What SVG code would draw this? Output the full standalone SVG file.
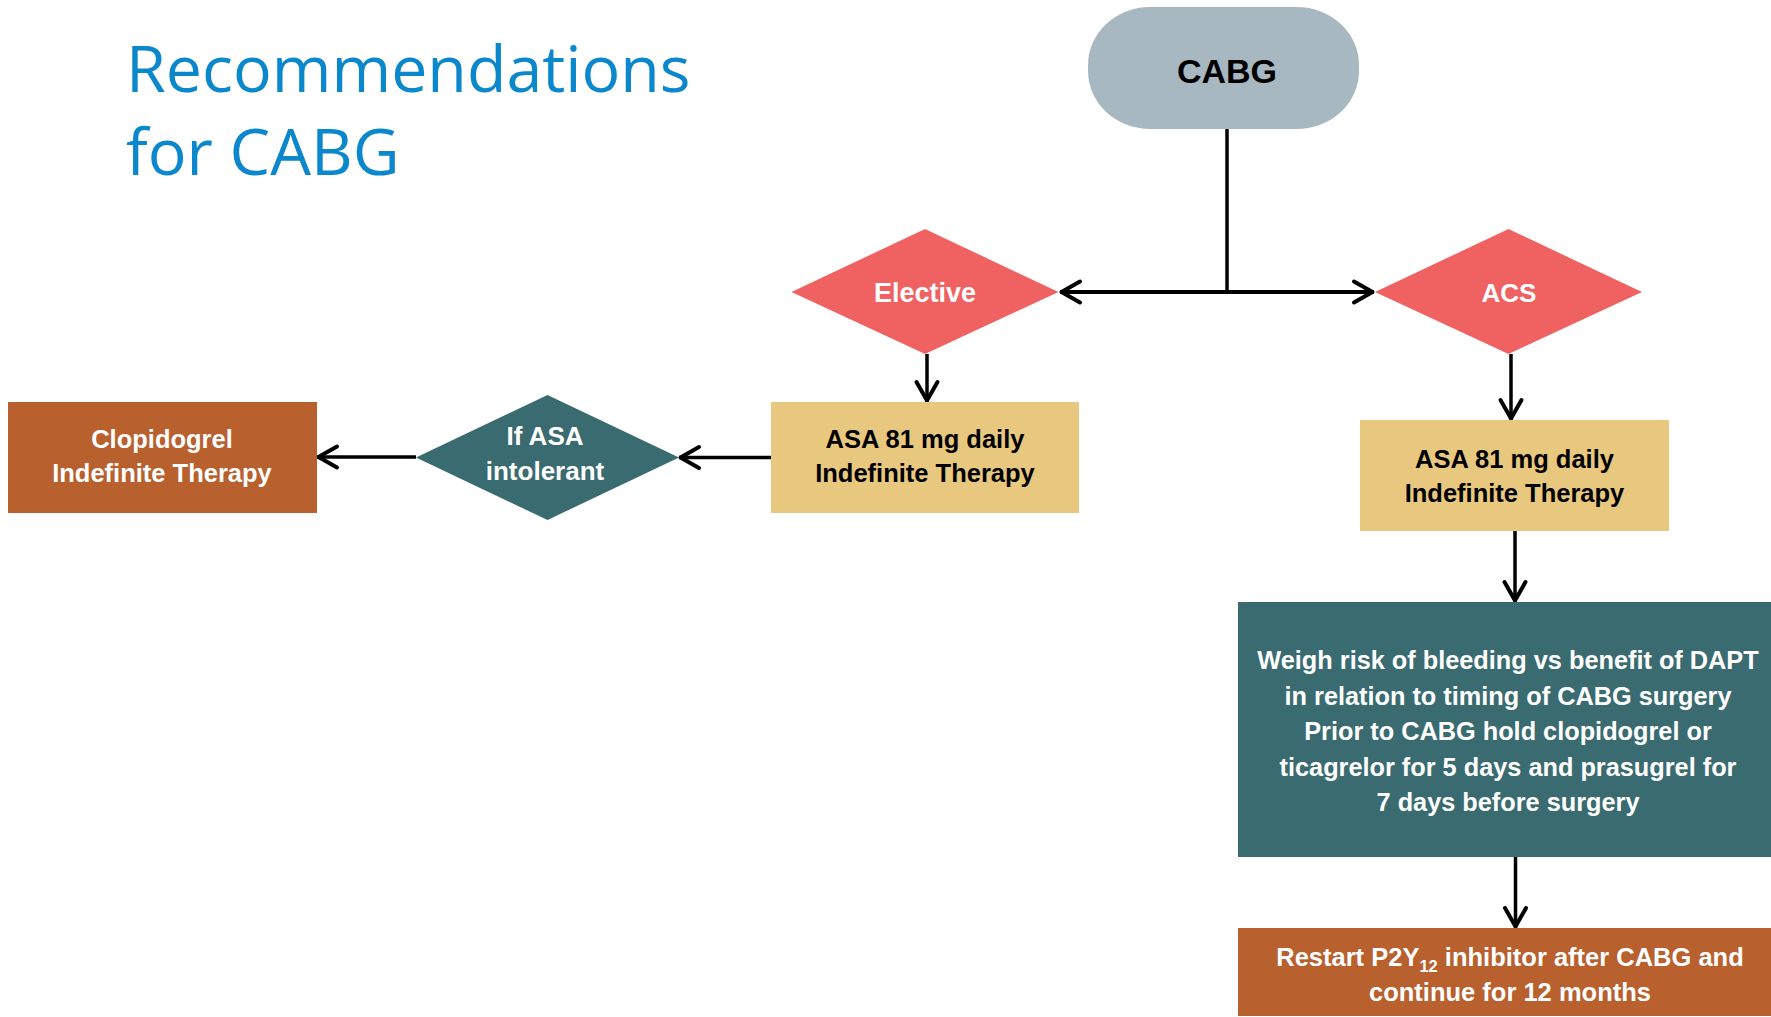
<svg xmlns="http://www.w3.org/2000/svg" width="1771" height="1017" viewBox="0 0 1771 1017">
<defs>
<style>
.t{font-family:"Liberation Sans",Arial,sans-serif;font-weight:bold;text-anchor:middle}
.w{fill:#ffffff}
.k{fill:#000000}
.title{font-family:"Open Sans","Noto Sans",sans-serif;fill:#0B87CC;font-size:64.5px}
.c{fill:none;stroke:#000;stroke-width:3.5}
.ca{fill:none;stroke:#000;stroke-width:3.5;marker-end:url(#arr)}
</style>
<marker id="arr" markerUnits="userSpaceOnUse" markerWidth="30" markerHeight="30" viewBox="-25 -15 30 30" refX="0" refY="0" orient="auto">
<path d="M-20,-10.5 L-1.5,0 L-20,10.5" fill="none" stroke="#000" stroke-width="4" stroke-linecap="round" stroke-linejoin="round"/>
</marker>
</defs>
<rect x="0" y="0" width="1771" height="1017" fill="#ffffff"/>
<g id="title">
<text class="title" x="126" y="92">Recommendations</text>
<text class="title" x="126" y="175">for CABG</text>
</g>
<g id="connectors">
<line class="c" x1="1227" y1="129" x2="1227" y2="292"/>
<line class="ca" x1="1227" y1="292" x2="1060" y2="292" style="stroke-width:4"/>
<line class="ca" x1="1227" y1="292" x2="1374" y2="292" style="stroke-width:4"/>
<line class="ca" x1="927" y1="354" x2="927" y2="402"/>
<line class="ca" x1="1511" y1="354" x2="1511" y2="420"/>
<line class="ca" x1="771" y1="457.5" x2="679" y2="457.5"/>
<line class="ca" x1="416" y1="457" x2="317" y2="457"/>
<line class="ca" x1="1515" y1="531" x2="1515" y2="602"/>
<line class="ca" x1="1515.5" y1="857" x2="1515.5" y2="928"/>
</g>
<g id="cabg">
<rect x="1088" y="7" width="271" height="122" rx="62" ry="58" fill="#A8B8C1"/>
<text class="t k" x="1227" y="83" font-size="34">CABG</text>
</g>
<g id="elective">
<polygon points="925,229 1058.5,292 925,354 791.5,292" fill="#F06262"/>
<text class="t w" x="925" y="302" font-size="27">Elective</text>
</g>
<g id="acs">
<polygon points="1508.5,229 1642,292 1508.5,354 1375,292" fill="#F06262"/>
<text class="t w" x="1509" y="302" font-size="26">ACS</text>
</g>
<g id="asa-elective">
<rect x="771" y="402" width="308" height="111" fill="#E8C77F"/>
<text class="t k" font-size="25.5"><tspan x="925" y="448">ASA 81 mg daily</tspan><tspan x="925" y="482">Indefinite Therapy</tspan></text>
</g>
<g id="if-asa-intolerant">
<polygon points="547.5,395 679,457.5 547.5,520 416,457.5" fill="#3A6B71"/>
<text class="t w" font-size="26"><tspan x="545" y="445">If ASA</tspan><tspan x="545" y="480">intolerant</tspan></text>
</g>
<g id="clopidogrel">
<rect x="8" y="402" width="309" height="111" fill="#B8602E"/>
<text class="t w" font-size="25.5"><tspan x="162" y="448">Clopidogrel</tspan><tspan x="162" y="482">Indefinite Therapy</tspan></text>
</g>
<g id="asa-acs">
<rect x="1360" y="420" width="309" height="111" fill="#E8C77F"/>
<text class="t k" font-size="25.5"><tspan x="1514.5" y="468">ASA 81 mg daily</tspan><tspan x="1514.5" y="502">Indefinite Therapy</tspan></text>
</g>
<g id="weigh-risk">
<rect x="1238" y="602" width="533" height="255" fill="#3A6B71"/>
<text class="t w" font-size="25.3"><tspan x="1508" y="669">Weigh risk of bleeding vs benefit of DAPT</tspan><tspan x="1508" y="705">in relation to timing of CABG surgery</tspan><tspan x="1508" y="740">Prior to CABG hold clopidogrel or</tspan><tspan x="1508" y="776">ticagrelor for 5 days and prasugrel for</tspan><tspan x="1508" y="811">7 days before surgery</tspan></text>
</g>
<g id="restart">
<rect x="1238" y="928" width="533" height="88" fill="#B8602E"/>
<text class="t w" font-size="25.5" x="1510" y="966">Restart P2Y<tspan font-size="16.5" dy="6">12</tspan><tspan dy="-6"> inhibitor after CABG and</tspan></text>
<text class="t w" font-size="25.5" x="1510" y="1001">continue for 12 months</text>
</g>
</svg>
